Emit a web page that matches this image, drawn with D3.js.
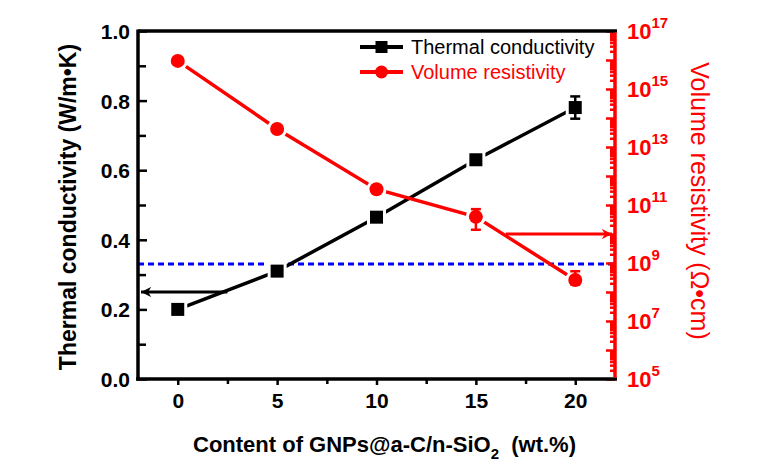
<!DOCTYPE html>
<html><head><meta charset="utf-8">
<script src="https://cdn.jsdelivr.net/npm/d3@7"></script>
<style>body{margin:0;background:#fff}svg{display:block}text{font-family:"Liberation Sans",Arial,sans-serif}</style>
</head><body>
<svg id="c" width="776" height="476"></svg>
<script>
const content = [0, 5, 10, 15, 20];
const thermal = [0.20, 0.31, 0.465, 0.63, 0.78];
const thermalErr = [0.004, 0.006, 0.01, 0.012, 0.032];
const resistivity = [9.3e15, 4.2e13, 3.5e11, 3.9e10, 2.6e8];
const resErrUp = [0, 0.3e13, 0.5e11, 3.3e10, 2.6e8];
const resErrDown = [0, 0.3e13, 0.5e11, 2.5e10, 0.8e8];
const xTicks = [0, 5, 10, 15, 20];
const yTicks = [0.0, 0.2, 0.4, 0.6, 0.8, 1.0];
const rExps = [5, 7, 9, 11, 13, 15, 17];
const thresholdRes = 1e9;

const svg = d3.select("#c");
const L = 138, R = 615, T = 31, B = 379;
const x = d3.scaleLinear().domain([-2, 22]).range([L, R]);
const y = d3.scaleLinear().domain([0, 1]).range([B, T]);
const yr = d3.scaleLog().domain([1e5, 1e17]).range([B, T]);

// blue dotted threshold
svg.append("line").attr("x1", L).attr("x2", R).attr("y1", yr(thresholdRes) + 1).attr("y2", yr(thresholdRes) + 1)
  .attr("stroke", "#0000ff").attr("stroke-width", 3).attr("stroke-dasharray", "6,4");

// axes
const gx = svg.append("g").attr("transform", `translate(0,${B})`)
  .call(d3.axisBottom(x).tickValues(xTicks).tickSize(6).tickFormat(d3.format("d")).tickPadding(8));
svg.append("g").attr("transform", `translate(0,${B})`)
  .call(d3.axisBottom(x).tickValues([2.5, 7.5, 12.5, 17.5]).tickSize(5).tickFormat(""));
const gy = svg.append("g").attr("transform", `translate(${L},0)`)
  .call(d3.axisLeft(y).tickValues(yTicks).tickSize(-9).tickFormat(d3.format(".1f")).tickPadding(8));
svg.append("g").attr("transform", `translate(${L},0)`)
  .call(d3.axisLeft(y).tickValues([0.1, 0.3, 0.5, 0.7, 0.9]).tickSize(-8).tickFormat(""));
// right log axis
const minor = [];
for (let e = 5; e < 17; e++) for (let k = 2; k <= 9; k++) minor.push(k * Math.pow(10, e));
const major = d3.range(5, 18).map(e => Math.pow(10, e));
const gr1 = svg.append("g").attr("transform", `translate(${R},0)`)
  .call(d3.axisRight(yr).tickValues(minor).tickSize(-5).tickFormat(""));
const gr2 = svg.append("g").attr("transform", `translate(${R},0)`)
  .call(d3.axisRight(yr).tickValues(major).tickSize(-9).tickFormat(""));
svg.selectAll("g").selectAll(".domain").remove();
svg.selectAll("g .tick line").attr("stroke-width", 2.5);
gr1.selectAll(".tick line").attr("stroke", "#ff0000");
gr2.selectAll(".tick line").attr("stroke", "#ff0000");

gx.selectAll("text").attr("font-size", 21).attr("font-weight", "bold").attr("fill", "#000");
gy.selectAll("text").attr("font-size", 21).attr("font-weight", "bold").attr("fill", "#000").attr("dy", "0.36em");

// frame
svg.append("line").attr("x1", L).attr("x2", R + 2).attr("y1", T).attr("y2", T).attr("stroke", "#000").attr("stroke-width", 3.5);
svg.append("line").attr("x1", L - 2).attr("x2", R + 2).attr("y1", B).attr("y2", B).attr("stroke", "#000").attr("stroke-width", 3.5);
svg.append("line").attr("x1", L).attr("x2", L).attr("y1", T - 1.5).attr("y2", B + 1.5).attr("stroke", "#000").attr("stroke-width", 3.5);
svg.append("line").attr("x1", R).attr("x2", R).attr("y1", T + 1.5).attr("y2", B - 1.5).attr("stroke", "#ff0000").attr("stroke-width", 3.5);

// right tick labels
const rl = svg.append("g");
rExps.forEach(e => {
  const t = rl.append("text").attr("x", R + 12).attr("y", yr(Math.pow(10, e)) + 8).attr("fill", "#ff0000")
    .attr("font-size", 22).attr("font-weight", "bold");
  t.append("tspan").text("10");
  t.append("tspan").attr("dy", -11).attr("font-size", 15).text(e);
});

// arrows
const defs = svg.append("defs");
defs.append("marker").attr("id", "ab").attr("viewBox", "0 0 10 10").attr("refX", 10).attr("refY", 5)
  .attr("markerWidth", 5).attr("markerHeight", 3.4).attr("markerUnits", "strokeWidth").attr("orient", "auto")
  .append("path").attr("d", "M0,0 L10,5 L0,10 L3,5 Z").attr("fill", "#000");
defs.append("marker").attr("id", "ar").attr("viewBox", "0 0 10 10").attr("refX", 10).attr("refY", 5)
  .attr("markerWidth", 5).attr("markerHeight", 3.4).attr("markerUnits", "strokeWidth").attr("orient", "auto")
  .append("path").attr("d", "M0,0 L10,5 L0,10 L3,5 Z").attr("fill", "#ff0000");
svg.append("line").attr("x1", x(2.5)).attr("x2", L + 3).attr("y1", y(0.25)).attr("y2", y(0.25))
  .attr("stroke", "#000").attr("stroke-width", 3).attr("marker-end", "url(#ab)");
svg.append("line").attr("x1", x(16.5)).attr("x2", R - 3).attr("y1", yr(1e10)).attr("y2", yr(1e10))
  .attr("stroke", "#ff0000").attr("stroke-width", 3).attr("marker-end", "url(#ar)");

const tData = content.map((c, i) => ({c, v: thermal[i], e: thermalErr[i]}));
const rData = content.map((c, i) => ({c, v: resistivity[i], up: resErrUp[i], dn: resErrDown[i]}));

// lines
svg.append("path").datum(tData).attr("fill", "none").attr("stroke", "#000").attr("stroke-width", 3.5)
  .attr("d", d3.line().x(d => x(d.c)).y(d => y(d.v)));
svg.append("path").datum(rData).attr("fill", "none").attr("stroke", "#ff0000").attr("stroke-width", 3.5)
  .attr("d", d3.line().x(d => x(d.c)).y(d => yr(d.v)));

// white halos to create gaps between line and marker
svg.append("g").selectAll("rect").data(tData).join("rect")
  .attr("x", d => x(d.c) - 9.5).attr("y", d => y(d.v) - 9.5).attr("width", 19).attr("height", 19).attr("fill", "#fff");
svg.append("g").selectAll("circle").data(rData).join("circle")
  .attr("cx", d => x(d.c)).attr("cy", d => yr(d.v)).attr("r", 10).attr("fill", "#fff");

// error bars
const te = svg.append("g");
tData.forEach(d => {
  const y1 = y(d.v + d.e), y2 = y(d.v - d.e), cx = x(d.c);
  te.append("line").attr("x1", cx).attr("x2", cx).attr("y1", y1).attr("y2", y2).attr("stroke", "#000").attr("stroke-width", 2.5);
  [y1, y2].forEach(yy => te.append("line").attr("x1", cx - 5).attr("x2", cx + 5).attr("y1", yy).attr("y2", yy).attr("stroke", "#000").attr("stroke-width", 2.5));
});
const re = svg.append("g");
rData.forEach(d => {
  if (!d.up) return;
  const y1 = yr(d.v + d.up), y2 = yr(d.v - d.dn), cx = x(d.c);
  re.append("line").attr("x1", cx).attr("x2", cx).attr("y1", y1).attr("y2", y2).attr("stroke", "#ff0000").attr("stroke-width", 2.5);
  [y1, y2].forEach(yy => re.append("line").attr("x1", cx - 5).attr("x2", cx + 5).attr("y1", yy).attr("y2", yy).attr("stroke", "#ff0000").attr("stroke-width", 2.5));
});

// markers
svg.append("g").selectAll("rect").data(tData).join("rect")
  .attr("x", d => x(d.c) - 6.5).attr("y", d => y(d.v) - 6.5).attr("width", 13).attr("height", 13).attr("fill", "#000");
svg.append("g").selectAll("circle").data(rData).join("circle")
  .attr("cx", d => x(d.c)).attr("cy", d => yr(d.v)).attr("r", 7).attr("fill", "#ff0000");

// legend
const lg = svg.append("g");
[["Thermal conductivity", "#000", "sq", 47], ["Volume resistivity", "#ff0000", "ci", 72]].forEach(([t, col, m, ly]) => {
  lg.append("line").attr("x1", 360).attr("x2", 403).attr("y1", ly).attr("y2", ly).attr("stroke", col).attr("stroke-width", 4);
  if (m === "sq") lg.append("rect").attr("x", 381.5 - 6).attr("y", ly - 6).attr("width", 12).attr("height", 12).attr("fill", col);
  else lg.append("circle").attr("cx", 381.5).attr("cy", ly).attr("r", 6.5).attr("fill", col);
  lg.append("text").attr("x", 411).attr("y", ly + 7).attr("font-size", 20).attr("fill", col).text(t);
});

// axis titles
svg.append("text").attr("transform", `translate(76,${(T + B) / 2 + 2}) rotate(-90)`).attr("text-anchor", "middle")
  .attr("font-size", 23).attr("font-weight", "bold").attr("fill", "#000").text("Thermal conductivity (W/m•K)");
svg.append("text").attr("transform", `translate(691,${(T + B) / 2 - 4}) rotate(90)`).attr("text-anchor", "middle")
  .attr("font-size", 25).attr("fill", "#ff0000").text("Volume resistivity (Ω•cm)");
const xt = svg.append("text").attr("x", 193).attr("y", 452).attr("font-size", 22).attr("font-weight", "bold").attr("fill", "#000");
xt.append("tspan").text("Content of GNPs@a-C/n-SiO");
xt.append("tspan").attr("dy", 7).attr("font-size", 15).text("2");
xt.append("tspan").attr("dy", -7).text("\u00a0 (wt.%)");
</script>
</body></html>
